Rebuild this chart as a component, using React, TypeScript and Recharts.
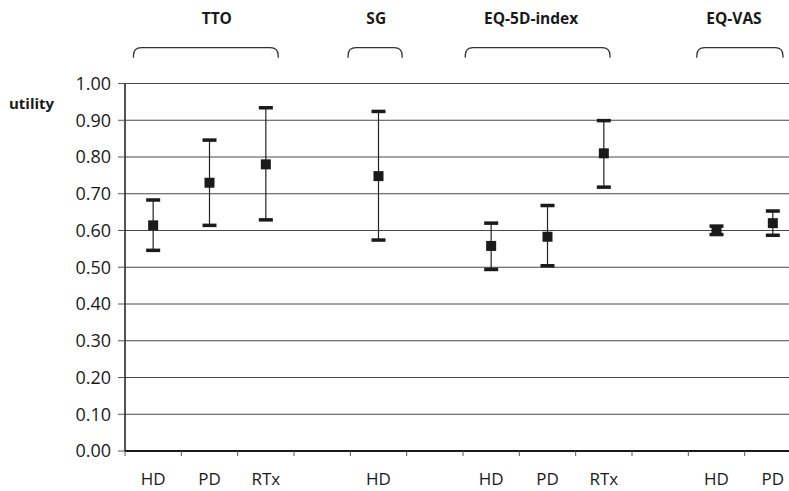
import React from 'react';
import {
  ComposedChart, Line, ErrorBar, XAxis, YAxis, CartesianGrid,
  ReferenceArea, ReferenceDot,
} from 'recharts';

// x categories (blank slots separate the groups)
const categories = ['HD', 'PD', 'RTx', '', 'HD', '', 'HD', 'PD', 'RTx', '', 'HD', 'PD'];

// mean utility and the lower / upper ends of each error bar
const means = [0.614, 0.730, 0.780, null, 0.748, null, 0.558, 0.583, 0.810, null, 0.600, 0.620];
const lows = [0.546, 0.614, 0.629, null, 0.574, null, 0.494, 0.504, 0.718, null, 0.589, 0.587];
const highs = [0.683, 0.846, 0.934, null, 0.924, null, 0.620, 0.668, 0.899, null, 0.612, 0.653];

const yTicks = [0, 0.1, 0.2, 0.3, 0.4, 0.5, 0.6, 0.7, 0.8, 0.9, 1.0];

// method groups above the plot (in x-axis units)
const groupNames = ['TTO', 'SG', 'EQ-5D-index', 'EQ-VAS'];
const groupLabelX = [1.63, 4.46, 7.21, 10.81];
const braceStart = [0.15, 3.96, 6.04, 10.15];
const braceEnd = [2.72, 4.92, 8.61, 11.68];

const data = categories
  .map((c, i) => ({
    x: i + 0.5,
    mean: means[i],
    lo: lows[i],
    hi: highs[i],
    err: means[i] == null ? null : [means[i] - lows[i], highs[i] - means[i]],
  }))
  .filter((d) => d.mean != null);

const boundaryTicks = categories.map((_, i) => i).concat([categories.length]);
const labelTicks = categories.map((_, i) => i + 0.5);

const Square = (props: any) => {
  const { cx, cy } = props;
  if (cx == null || cy == null) return null;
  return <rect x={cx - 5} y={cy - 5} width={10} height={10} fill="#1a1a1a" />;
};

const Cap = (props: any) => {
  const { cx, cy } = props;
  if (cx == null || cy == null) return null;
  return <rect x={cx - 7} y={cy - 1.75} width={14} height={3.5} fill="#1a1a1a" />;
};

const Brace = (props: any) => {
  const { x, y, width, height } = props;
  const r = 8;
  const d = `M${x},${y + height} L${x},${y + r} Q${x},${y} ${x + r},${y} L${x + width - r},${y} Q${x + width},${y} ${x + width},${y + r} L${x + width},${y + height}`;
  return <path d={d} fill="none" stroke="#333" strokeWidth={1.3} />;
};

const App = () => {
  return (
    <div style={{ position: 'absolute', left: 0, top: 0, width: 789, height: 491, overflow: 'hidden', background: '#fff', fontFamily: '"Open Sans", sans-serif' }}>
      <ComposedChart width={810} height={491} data={data} margin={{ top: 83.5, right: 9, bottom: 0, left: 0 }}>
        <CartesianGrid vertical={false} stroke="#4a4a4a" strokeWidth={1} />
        <XAxis
          dataKey="x"
          type="number"
          domain={[0, 12]}
          ticks={boundaryTicks}
          tickFormatter={() => ''}
          tickSize={5}
          height={6}
          axisLine={{ stroke: '#1a1a1a', strokeWidth: 2 }}
          tickLine={{ stroke: '#555' }}
          allowDataOverflow
        />
        <XAxis
          xAxisId="lab"
          dataKey="x"
          type="number"
          domain={[0, 12]}
          ticks={labelTicks}
          tickFormatter={(v: number) => categories[Math.round(v - 0.5)]}
          axisLine={false}
          tickLine={false}
          tickSize={6}
          tickMargin={10}
          height={34}
          interval={0}
          tick={{ fill: '#1a1a1a', fontSize: 17 }}
          allowDataOverflow
        />
        <YAxis
          type="number"
          domain={[0, 1]}
          ticks={yTicks}
          interval={0}
          width={125}
          tickFormatter={(v: number) => v.toFixed(2)}
          tickSize={7}
          tickMargin={7}
          tick={{ fill: '#1a1a1a', fontSize: 18 }}
          axisLine={{ stroke: '#1a1a1a', strokeWidth: 1.5 }}
          tickLine={{ stroke: '#555' }}
          label={{ value: 'utility', position: 'insideTopLeft', offset: 9, dy: 6, fontSize: 15, fontWeight: 'bold', fill: '#1a1a1a' }}
        />
        {groupNames.map((g, i) => (
          <ReferenceArea
            key={`brace-${g}`}
            x1={braceStart[i]}
            x2={braceEnd[i]}
            y1={1.07}
            y2={1.0975}
            ifOverflow="visible"
            shape={<Brace />}
          />
        ))}
        {groupNames.map((g, i) => (
          <ReferenceDot
            key={`label-${g}`}
            x={groupLabelX[i]}
            y={1.1774}
            r={1}
            fill="none"
            stroke="none"
            ifOverflow="visible"
            label={{ value: g, position: 'center', fontSize: 15.5, fontWeight: 'bold', fill: '#1a1a1a' }}
          />
        ))}
        <Line dataKey="mean" stroke="none" dot={<Square />} activeDot={false} isAnimationActive={false} legendType="none">
          <ErrorBar dataKey="err" direction="y" width={0} stroke="#222" strokeWidth={1.2} isAnimationActive={false} />
        </Line>
        <Line dataKey="hi" stroke="none" dot={<Cap />} activeDot={false} isAnimationActive={false} legendType="none" />
        <Line dataKey="lo" stroke="none" dot={<Cap />} activeDot={false} isAnimationActive={false} legendType="none" />
      </ComposedChart>
    </div>
  );
};

export default App;
